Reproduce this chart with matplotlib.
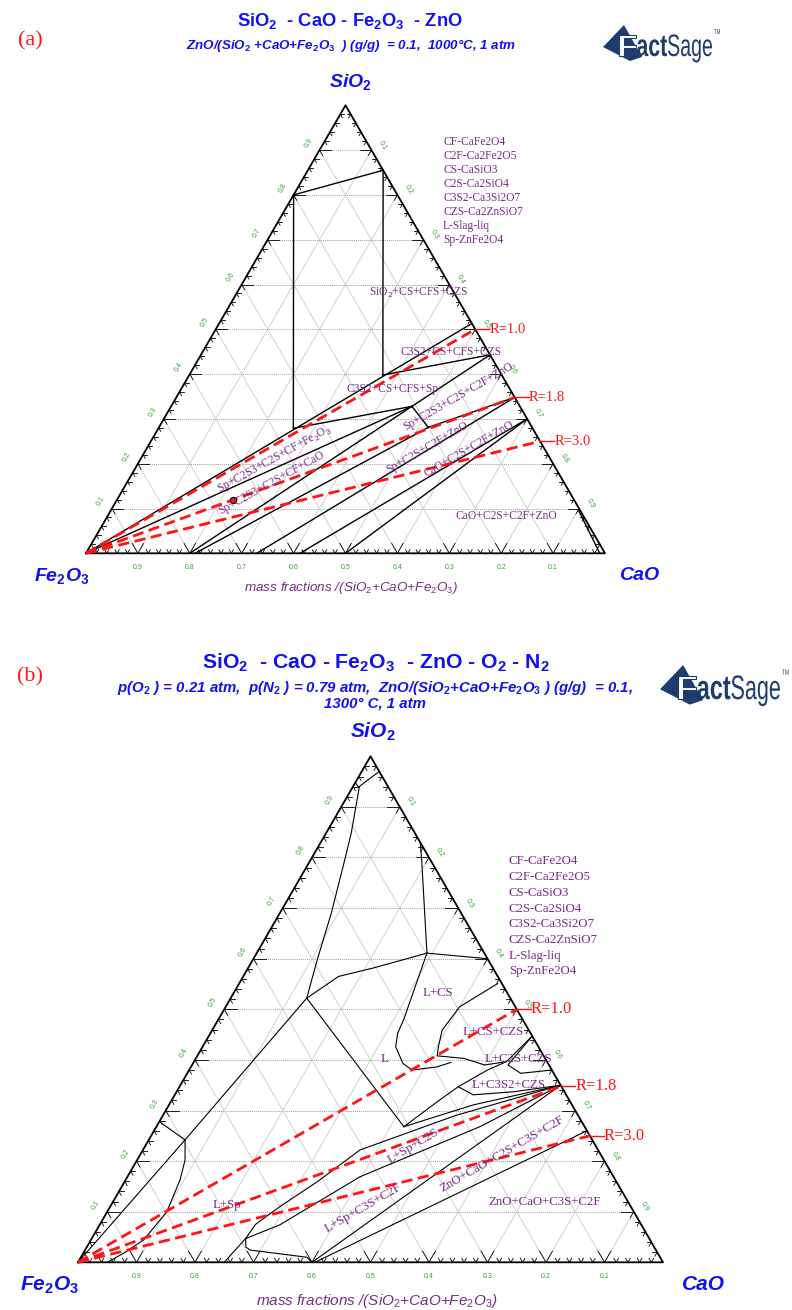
import numpy as np
import matplotlib.pyplot as plt
from matplotlib.patches import Polygon, PathPatch
from matplotlib.textpath import TextPath
from matplotlib.font_manager import FontProperties
from matplotlib.transforms import Affine2D

plt.rcParams['mathtext.fontset'] = 'custom'
plt.rcParams['mathtext.rm'] = 'Liberation Sans'
plt.rcParams['mathtext.it'] = 'Liberation Sans:italic'
plt.rcParams['mathtext.bf'] = 'Liberation Sans:bold'

W, H = 792, 1310
SANS = 'Liberation Sans'
SERIF = 'Liberation Serif'
BLUE = '#1212f0'
PURPLE = '#7a2a86'
GREEN = '#33a033'
RED = '#ff1414'
NAVY = '#1e3c6c'

# phase boundaries, (CaO, SiO2) mass fractions of SiO2+CaO+Fe2O3
a_bounds = [
    [(0.0, 0.80), (0.145, 0.855)],
    [(0.0, 0.80), (0.26, 0.279)],
    [(0.145, 0.855), (0.373, 0.398)],
    [(0.0, 0.0), (0.487, 0.513)],
    [(0.26, 0.279), (0.464, 0.328)],
    [(0.0, 0.0), (0.464, 0.328)],
    [(0.373, 0.398), (0.557, 0.443)],
    [(0.464, 0.328), (0.557, 0.443)],
    [(0.464, 0.328), (0.519, 0.281)],
    [(0.519, 0.281), (0.652, 0.348)],
    [(0.20, 0.0), (0.464, 0.328)],
    [(0.21, 0.0), (0.519, 0.281)],
    [(0.329, 0.0), (0.652, 0.348)],
    [(0.412, 0.0), (0.70, 0.30)],
    [(0.50, 0.0), (0.70, 0.30)],
    [(0.90, 0.097), (0.99, 0.0)],
]
b_bounds = [
    [(0.0, 0.948), (0.01, 0.939), (0.02, 0.955), (0.03, 0.97)],
    [(0.011, 0.94), (0.043, 0.848), (0.057, 0.80), (0.088, 0.69), (0.11, 0.598), (0.13, 0.522)],
    [(0.13, 0.522), (0.163, 0.565), (0.215, 0.582), (0.291, 0.611)],
    [(0.0, 0.0), (0.062, 0.242), (0.13, 0.522)],
    [(0.062, 0.242), (0.0, 0.278)],
    [(0.062, 0.242), (0.082, 0.202), (0.093, 0.163), (0.102, 0.10), (0.09, 0.044), (0.069, 0.018), (0.05, 0.0)],
    [(0.13, 0.522), (0.423, 0.268)],
    [(0.291, 0.611), (0.40, 0.60)],
    [(0.291, 0.611), (0.19, 0.795), (0.17, 0.83)],
    [(0.291, 0.611), (0.317, 0.479), (0.32, 0.453), (0.33, 0.426), (0.359, 0.393), (0.381, 0.38), (0.42, 0.386), (0.44, 0.395)],
    [(0.442, 0.551), (0.40, 0.505), (0.393, 0.459), (0.403, 0.426), (0.41, 0.408), (0.458, 0.403), (0.50, 0.39), (0.534, 0.3965), (0.553, 0.447)],
    [(0.553, 0.447), (0.54, 0.39), (0.57, 0.3735), (0.62, 0.38)],
    [(0.423, 0.268), (0.458, 0.321), (0.4765, 0.347), (0.51, 0.38), (0.534, 0.3965)],
    [(0.4765, 0.347), (0.51, 0.331), (0.576, 0.337), (0.65, 0.35)],
    [(0.423, 0.268), (0.52, 0.311), (0.65, 0.35)],
    [(0.263, 0.047), (0.266, 0.075), (0.29, 0.11), (0.33, 0.16), (0.371, 0.222), (0.50, 0.29), (0.65, 0.35)],
    [(0.263, 0.047), (0.308, 0.074), (0.3975, 0.169), (0.553, 0.268), (0.65, 0.35)],
    [(0.25, 0.0), (0.263, 0.047)],
    [(0.263, 0.047), (0.272, 0.03), (0.283, 0.024), (0.306, 0.021), (0.386, 0.01), (0.40, 0.0)],
    [(0.40, 0.0), (0.65, 0.35)],
    [(0.405, 0.0), (0.74, 0.26)],
]

# basicity lines R = CaO/SiO2, end points on the SiO2-CaO side
r_values = [1.0, 1.8, 3.0]
r_end_cao = [0.50, 0.652, 0.75]
a_point = (0.224, 0.119)

legend_lines = ['CF-CaFe2O4', 'C2F-Ca2Fe2O5', 'CS-CaSiO3', 'C2S-Ca2SiO4',
                'C3S2-Ca3Si2O7', 'CZS-Ca2ZnSiO7', 'L-Slag-liq', 'Sp-ZnFe2O4']

a_labels = [('SiO$_2$+CS+CFS+CZS', 419, 293, 0), ('C3S2+CS+CFS+CZS', 451, 352, 0),
            ('C3S2+CS+CFS+Sp', 393, 389, 0), ('Sp+C2S3+C2S+C2F+ZnO', 458, 397, 30),
            ('Sp+C2S3+C2S+CF+Fe$_2$O$_3$', 275, 459, 29), ('Sp+C2S3+C2S+CF+CaO', 272, 483, 29),
            ('Sp+C2S+C2F+ZnO', 427, 448, 30), ('CaO+C2S+C2F+ZnO', 469, 449, 30),
            ('CaO+C2S+C2F+ZnO', 506, 516, 0)]
b_labels = [('L+CS', 438, 993, 0), ('L', 385, 1059, 0), ('L+CS+CZS', 493, 1032, 0),
            ('L+C2S+CZS', 518, 1059, 0), ('L+C3S2+CZS', 509, 1085, 0),
            ('L+Sp+C2S', 413, 1146, 31), ('L+Sp+C3S+C2F', 363, 1208, 30),
            ('ZnO+CaO+C2S+C3S+C2F', 502, 1154, 30), ('ZnO+CaO+C3S+C2F', 545, 1202, 0),
            ('L+Sp', 227, 1205, 0)]

fig = plt.figure(figsize=(W / 100, H / 100), dpi=100)


def ftext(px, py, s, **kw):
    fig.text(px / W, 1 - py / H, s, ha=kw.pop('ha', 'center'), va=kw.pop('va', 'center'), **kw)


def tern(pts):
    p = np.asarray(pts, float)
    return p[:, 0] + p[:, 1] / 2, p[:, 1]


def panel(ox, oy, L, h, bounds, lw):
    ax = fig.add_axes([ox / W, 1 - oy / H, L / W, h / H])
    ax.set_xlim(0, 1)
    ax.set_ylim(0, 1)
    ax.axis('off')
    for v in np.arange(1, 10) / 10:
        ax.plot([v / 2, 1 - v / 2], [v, v], color='#9c9c9c', lw=0.7, ls=(0, (1, 1)))
        ax.plot([v, v + (1 - v) / 2], [0, 1 - v], color='#d0d0d0', lw=0.7)
        ax.plot([1 - v, (1 - v) / 2], [0, 1 - v], color='#d0d0d0', lw=0.7)
    # ticks every 0.02, longer at each 0.1
    for i in range(1, 50):
        t = i / 50
        major = i % 5 == 0
        m = 0.022 if major else 0.008
        d = 0.012 if major else 0.008
        segs = [((t / 2, t), (t / 2 + m, t)), ((t / 2, t), (t / 2 + d / 2, t - d)),
                ((t, 0), (t + m / 2, m)), ((t, 0), (t - m / 2, m)),
                ((1 - t / 2, t), (1 - t / 2 - m, t)), ((1 - t / 2, t), (1 - t / 2 - d / 2, t - d))]
        for p0, p1 in segs:
            ax.plot([p0[0], p1[0]], [p0[1], p1[1]], color='k', lw=0.6, clip_on=False)
    for v in np.arange(1, 10) / 10:
        lab = f'{v:.1f}'
        kw = dict(textcoords='offset points', fontsize=5, color=GREEN, family=SANS,
                  ha='center', va='center', annotation_clip=False)
        ax.annotate(lab, (v / 2, v), xytext=(-11 * 0.72, 7 * 0.72), rotation=60, **kw)
        s = 1 - v
        ax.annotate(lab, (1 - s / 2, s), xytext=(11 * 0.72, 5 * 0.72), rotation=-60, **kw)
        ax.annotate(lab, (1 - v, 0), xytext=(0, -14 * 0.72), **kw)
    for line in bounds:
        x, y = tern(line)
        ax.plot(x, y, color='k', lw=lw)
    ax.plot([0, 1, 0.5, 0], [0, 0, 1, 0], color='k', lw=1.3, clip_on=False)
    return ax


def r_lines(ax, L, fs):
    for rv, c in zip(r_values, r_end_cao):
        x, y = tern([(0, 0), (c, 1 - c)])
        ax.plot(x, y, color=RED, lw=2.0, ls=(0, (4, 2)), clip_on=False)
        dx = 14 / L
        ax.plot([x[1], x[1] + dx], [y[1], y[1]], color=RED, lw=1.0, clip_on=False)
        ax.text(x[1] + dx, y[1], f'R={rv:.1f}', color=RED, family=SERIF, fontsize=fs,
                ha='left', va='center')


def logo(x0, y0, k):
    # FactSage mark drawn from glyph outlines, x0,y0 = top-left in pixels
    q = np.array([(0, 22), (21, 0), (39, 32), (27, 36)]) * k + (x0, y0)
    fig.add_artist(Polygon(np.column_stack([q[:, 0] / W, 1 - q[:, 1] / H]),
                           closed=True, transform=fig.transFigure, fc=NAVY, ec='none'))

    def glyphs(s, xa, xb, base, em, weight, color, ec='none'):
        tp = TextPath((0, 0), s, size=1, prop=FontProperties(family=SANS, weight=weight))
        e = tp.get_extents()
        sx = (xb - xa) / e.width
        tr = Affine2D().translate(-e.x0, 0).scale(sx / W, em / H).translate(xa / W, 1 - base / H)
        fig.add_artist(PathPatch(tp, transform=tr + fig.transFigure, fc=color, ec=ec, lw=0.8))

    glyphs('F', x0 + 16 * k, x0 + 33 * k, y0 + 31 * k, 31 * k, 'bold', 'white', NAVY)
    glyphs('act', x0 + 34 * k, x0 + 64 * k, y0 + 31 * k, 31 * k, 'bold', NAVY)
    glyphs('Sage', x0 + 65 * k, x0 + 109 * k, y0 + 31 * k, 31 * k, 'normal', NAVY)
    glyphs('TM', x0 + 111 * k, x0 + 117 * k, y0 + 9 * k, 7 * k, 'normal', NAVY)


# ---------------- panel (a) ----------------
La = 519
axa = panel(86, 553.3, La, 448, a_bounds, 1.0)
r_lines(axa, La, 10.5)
px_, py_ = tern([a_point])
axa.plot(px_, py_, 'o', ms=4.5, mfc=RED, mec='k', mew=0.8)
for s, x, y, r in a_labels:
    ftext(x, y, s, color=PURPLE, family=SERIF, fontsize=8.3, rotation=r, rotation_mode='anchor')
for i, s in enumerate(legend_lines):
    ftext(443, 142.3 + i * 13.9, s, color=PURPLE, family=SERIF, fontsize=8.3, ha='left')

ftext(30, 41, '(a)', color=RED, family=SERIF, fontsize=16)
ftext(350, 21, r'SiO$_\mathbf{2}$  - CaO - Fe$_\mathbf{2}$O$_\mathbf{3}$  - ZnO',
      color=BLUE, family=SANS, weight='bold', fontsize=13.2)
ftext(351, 46, r'ZnO/(SiO$_\mathbf{2}$ +CaO+Fe$_\mathbf{2}$O$_\mathbf{3}$  ) (g/g)  = 0.1,  1000°C, 1 atm',
      color=BLUE, family=SANS, weight='bold', style='italic', fontsize=9.6)
ftext(350, 82, r'SiO$_\mathbf{2}$', color=BLUE, family=SANS, weight='bold', style='italic', fontsize=14)
ftext(62, 576, r'Fe$_\mathbf{2}$O$_\mathbf{3}$', color=BLUE, family=SANS, weight='bold', style='italic', fontsize=14)
ftext(639, 576, 'CaO', color=BLUE, family=SANS, weight='bold', style='italic', fontsize=14)
ftext(351, 588, r'mass fractions /(SiO$_2$+CaO+Fe$_2$O$_3$)', color=PURPLE, family=SANS,
      style='italic', fontsize=9.7)
logo(603, 25, 1.0)

# ---------------- panel (b) ----------------
Lb = 585
axb = panel(78, 1262.3, Lb, 506, b_bounds, 0.8)
r_lines(axb, Lb, 12)
for s, x, y, r in b_labels:
    ftext(x, y, s, color=PURPLE, family=SERIF, fontsize=9.3, rotation=r, rotation_mode='anchor')
for i, s in enumerate(legend_lines):
    ftext(509, 861.5 + i * 15.7, s, color=PURPLE, family=SERIF, fontsize=9.3, ha='left')

ftext(30, 677, '(b)', color=RED, family=SERIF, fontsize=16)
ftext(376, 663, r'SiO$_\mathbf{2}$  - CaO - Fe$_\mathbf{2}$O$_\mathbf{3}$  - ZnO - O$_\mathbf{2}$ - N$_\mathbf{2}$',
      color=BLUE, family=SANS, weight='bold', fontsize=15.3)
ftext(375, 688, r'p(O$_\mathbf{2}$ ) = 0.21 atm,  p(N$_\mathbf{2}$ ) = 0.79 atm,  '
      r'ZnO/(SiO$_\mathbf{2}$+CaO+Fe$_\mathbf{2}$O$_\mathbf{3}$ ) (g/g)  = 0.1,',
      color=BLUE, family=SANS, weight='bold', style='italic', fontsize=10.8)
ftext(375, 704, '1300° C, 1 atm', color=BLUE, family=SANS, weight='bold', style='italic', fontsize=10.8)
ftext(373, 732, r'SiO$_\mathbf{2}$', color=BLUE, family=SANS, weight='bold', style='italic', fontsize=15)
ftext(50, 1285, r'Fe$_\mathbf{2}$O$_\mathbf{3}$', color=BLUE, family=SANS, weight='bold', style='italic', fontsize=15)
ftext(703, 1285, 'CaO', color=BLUE, family=SANS, weight='bold', style='italic', fontsize=15)
ftext(377, 1301, r'mass fractions /(SiO$_2$+CaO+Fe$_2$O$_3$)', color=PURPLE, family=SANS,
      style='italic', fontsize=11)
logo(660, 665, 1.1)

fig.savefig('out.png', dpi=100)
